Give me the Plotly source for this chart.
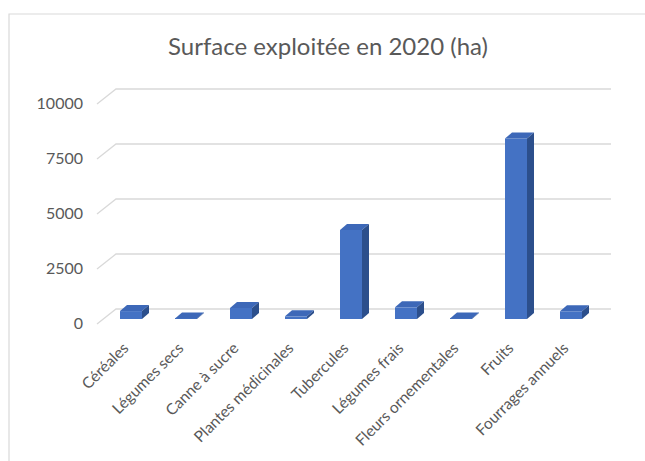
import plotly.graph_objects as go

categories = ["Céréales", "Légumes secs", "Canne à sucre", "Plantes médicinales",
              "Tubercules", "Légumes frais", "Fleurs ornementales", "Fruits",
              "Fourrages annuels"]
values = [360, 20, 500, 120, 4050, 530, 20, 8200, 350]
y_ticks = [0, 2500, 5000, 7500, 10000]
title_text = "Surface exploitée en 2020 (ha)"

W, H = 645, 461
# pixel geometry
CAT_PX = 55.0          # pixels per category
X0_PX = 131.0          # pixel of category 0 centre
Y0_PX = 319.0          # pixel of value 0 (bar front base)
PX_PER_UNIT = 0.022    # pixels per value unit
L, R, T, B = 90, 630, 80, 335

xr = [(L - X0_PX) / CAT_PX, (R - X0_PX) / CAT_PX]
yr = [(Y0_PX - B) / PX_PER_UNIT, (Y0_PX - T) / PX_PER_UNIT]

def px2x(p):
    return p / CAT_PX

def px2y(p):
    return p / PX_PER_UNIT

BAR_W = 0.4
DX = px2x(7)
DY = px2y(6)
FRONT = "#4472C4"
TOP = "#3D68B8"
SIDE = "#2C4F8C"
GRID = "#D9D9D9"
TXT = "#595959"
FONT = "Lato"

idx = list(range(len(categories)))

fig = go.Figure()
fig.add_trace(go.Bar(x=idx, y=values, width=BAR_W,
                     marker=dict(color=FRONT, line=dict(width=0)),
                     hoverinfo="x+y"))

shapes = []
n = len(categories)
gx_front = -0.5 - px2x(6.5)
gx_back = -0.5 + px2x(12.5)
gx_end = n - 0.5 + px2x(12.5)
for v in y_ticks:
    yf = v - px2y(5)
    yb = v + px2y(10)
    shapes.append(dict(type="path", xref="x", yref="y", layer="below",
                       path=f"M {gx_front},{yf} L {gx_back},{yb} L {gx_end},{yb}",
                       line=dict(color=GRID, width=1.3)))

for i, v in zip(idx, values):
    x0, x1 = i - BAR_W / 2, i + BAR_W / 2
    shapes.append(dict(type="path", xref="x", yref="y", layer="above",
                       path=f"M {x0},{v} L {x1},{v} L {x1+DX},{v+DY} L {x0+DX},{v+DY} Z",
                       fillcolor=TOP, line=dict(width=0)))
    shapes.append(dict(type="path", xref="x", yref="y", layer="above",
                       path=f"M {x1},0 L {x1+DX},{DY} L {x1+DX},{v+DY} L {x1},{v} Z",
                       fillcolor=SIDE, line=dict(width=0)))

# chart border (left and top edges)
pw, ph = R - L, B - T
def pxp(p):
    return (p - L) / pw
def pyp(p):
    return (B - p) / ph
shapes.append(dict(type="path", xref="paper", yref="paper", layer="below",
                   path=f"M {pxp(9)},{pyp(H+5)} L {pxp(9)},{pyp(14)} L {pxp(W+5)},{pyp(14)}",
                   line=dict(color=GRID, width=1.2)))

fig.update_layout(
    width=W, height=H,
    margin=dict(l=L, r=W - R, t=T, b=H - B, pad=0),
    paper_bgcolor="white", plot_bgcolor="white",
    showlegend=False,
    shapes=shapes,
    title=dict(text=title_text, x=328 / W, xanchor="center", y=1 - 47 / H, yanchor="middle",
               font=dict(family=FONT, size=24, color=TXT)),
    xaxis=dict(range=xr, tickvals=[i - px2x(7) for i in idx], ticktext=categories, tickangle=-45,
               showgrid=False, zeroline=False, showline=False, ticks="",
               tickfont=dict(family=FONT, size=15.5, color=TXT), fixedrange=True),
    yaxis=dict(range=yr, tickvals=[v - px2y(4) for v in y_ticks],
               ticktext=[str(v) for v in y_ticks], ticklabelstandoff=6,
               showgrid=False, zeroline=False, showline=False, ticks="",
               tickfont=dict(family=FONT, size=16, color=TXT), fixedrange=True),
)

fig.write_html("out.html")
